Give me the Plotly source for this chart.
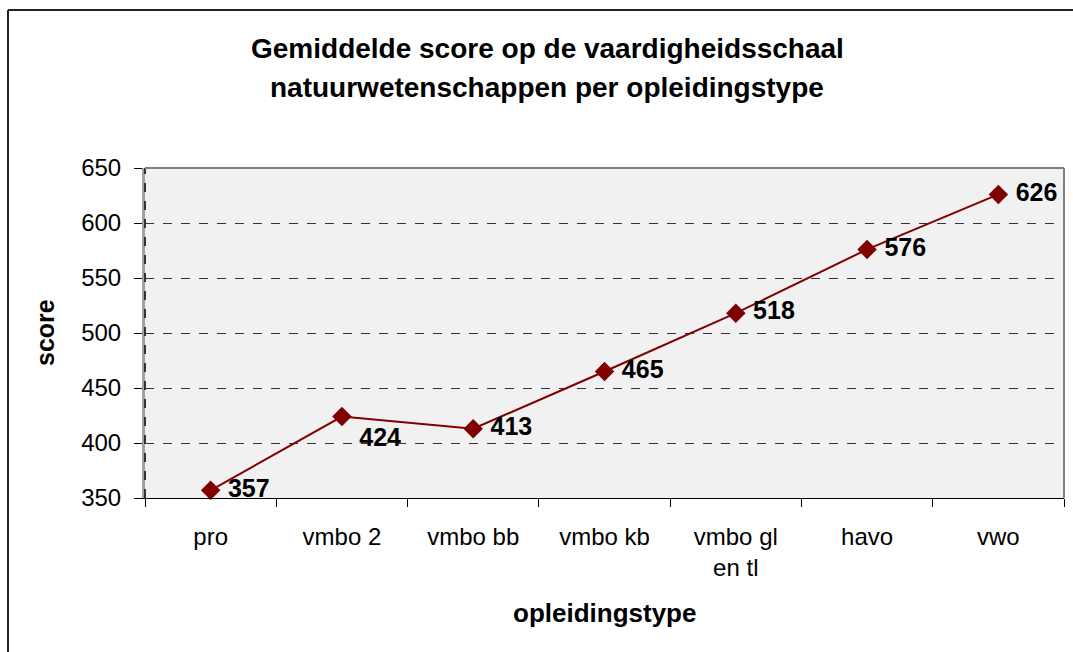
import plotly.graph_objects as go

categories = ["pro", "vmbo 2", "vmbo bb", "vmbo kb", "vmbo gl<br>en tl", "havo", "vwo"]
scores = [357, 424, 413, 465, 518, 576, 626]
label_positions = ["middle right", "bottom right", "middle right", "middle right",
                   "middle right", "middle right", "middle right"]
y_ticks = [350, 400, 450, 500, 550, 600, 650]
title_lines = ["Gemiddelde score op de vaardigheidsschaal",
               "natuurwetenschappen per opleidingstype"]

FONT = "Liberation Sans, Arial, sans-serif"
RED = "#800000"

fig = go.Figure()
fig.add_trace(go.Scatter(
    x=categories, y=scores,
    mode="lines+markers+text",
    line=dict(color=RED, width=2),
    marker=dict(symbol="diamond", size=15, color=RED),
    text=[" " + str(v) for v in scores],
    textposition=label_positions,
    textfont=dict(family=FONT, size=25, color="black", weight="bold"),
    cliponaxis=False,
    showlegend=False,
    hoverinfo="skip",
))

L, R, T, B = 145, 9, 168, 154
W, H = 1073, 652
pw, ph = W - L - R, H - T - B


def px_to_paper_y(py):
    return (H - B - py) / ph


def px_to_paper_x(px):
    return (px - L) / pw


annotations = [
    dict(text="<b>opleidingstype</b>", xref="paper", yref="paper",
         x=0.5, y=px_to_paper_y(613), xanchor="center", yanchor="middle",
         showarrow=False, font=dict(family=FONT, size=26, color="black")),
    dict(text="<b>score</b>", xref="paper", yref="paper",
         x=px_to_paper_x(45), y=0.5, xanchor="center", yanchor="middle",
         textangle=-90, showarrow=False,
         font=dict(family=FONT, size=25, color="black")),
]
for line, ypx in zip(title_lines, [48, 87]):
    annotations.append(dict(
        text="<b>" + line + "</b>", xref="paper", yref="paper",
        x=px_to_paper_x(547), y=px_to_paper_y(ypx),
        xanchor="center", yanchor="middle", showarrow=False,
        font=dict(family=FONT, size=28, color="black")))

fig.update_layout(
    width=W, height=H,
    margin=dict(l=L, r=R, t=T, b=B),
    paper_bgcolor="white",
    plot_bgcolor="#f1f1f1",
    font=dict(family=FONT, size=24, color="black"),
    xaxis=dict(
        type="category",
        showgrid=False,
        showline=True, linecolor="black", linewidth=1,
        ticks="outside", ticklen=8, tickcolor="black", tickson="boundaries",
        tickfont=dict(family=FONT, size=24, color="black"),
        ticklabelstandoff=17,
        range=[-0.5, len(categories) - 0.5],
        zeroline=False,
    ),
    yaxis=dict(
        range=[350, 650],
        tickvals=y_ticks,
        showgrid=True, gridcolor="#333333", gridwidth=1, griddash="dash",
        showline=True, linecolor="#a0a0a0", linewidth=3,
        ticks="outside", ticklen=8, tickcolor="black",
        tickfont=dict(family=FONT, size=24, color="black"),
        ticklabelstandoff=8,
        zeroline=False,
    ),
    annotations=annotations,
    shapes=[
        # dashed dark overlay on the left axis line
        dict(type="line", xref="paper", yref="paper", x0=0, x1=0, y0=0, y1=1,
             line=dict(color="#333333", width=2, dash="dash")),
        # plot area border (top and right gray)
        dict(type="line", xref="paper", yref="paper", x0=0, x1=1, y0=1, y1=1,
             line=dict(color="#808080", width=2)),
        dict(type="line", xref="paper", yref="paper", x0=1, x1=1, y0=0, y1=1,
             line=dict(color="#808080", width=2)),
        # outer chart frame (top and left visible)
        dict(type="line", xref="paper", yref="paper",
             x0=px_to_paper_x(8), x1=1.2, y0=px_to_paper_y(10), y1=px_to_paper_y(10),
             line=dict(color="#222222", width=2)),
        dict(type="line", xref="paper", yref="paper",
             x0=px_to_paper_x(8), x1=px_to_paper_x(8), y0=-1, y1=px_to_paper_y(10),
             line=dict(color="#222222", width=2)),
    ],
)

fig.write_html("out.html", config={"displayModeBar": False},
               post_script="document.body.style.margin='0';")
